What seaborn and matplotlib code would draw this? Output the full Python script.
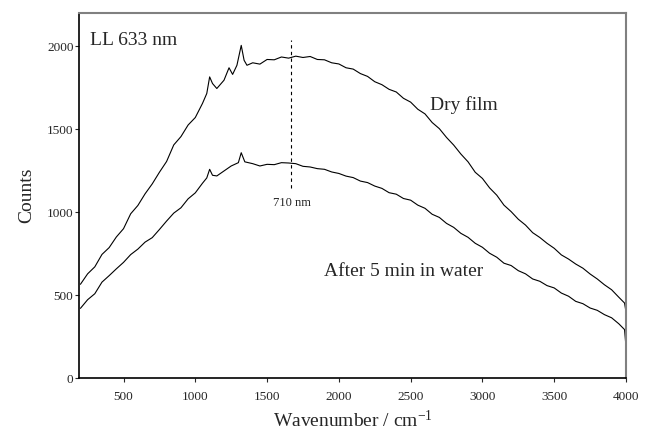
import matplotlib
matplotlib.use("Agg")
import matplotlib.pyplot as plt
import seaborn as sns
import pandas as pd

# ---- data ----
dry_x = [200, 250, 300, 350, 400, 450, 500, 550, 600, 650, 700, 750, 800, 850, 900, 950,
         1000, 1050, 1080, 1100, 1120, 1150, 1180, 1200, 1235, 1260, 1290, 1320, 1340, 1360,
         1400, 1450, 1500, 1550, 1600, 1650, 1700, 1750, 1800, 1850, 1900, 1950, 2000, 2050,
         2100, 2150, 2200, 2250, 2300, 2350, 2400, 2450, 2500, 2550, 2600, 2650, 2700, 2750,
         2800, 2850, 2900, 2950, 3000, 3050, 3100, 3150, 3200, 3250, 3300, 3350, 3400, 3450,
         3500, 3550, 3600, 3650, 3700, 3750, 3800, 3850, 3900, 3950, 3990, 4000]
dry_y = [565, 628, 670, 745, 786, 850, 900, 990, 1040, 1110, 1170, 1240, 1305, 1405, 1455, 1525,
         1570, 1655, 1715, 1815, 1775, 1745, 1775, 1795, 1870, 1830, 1885, 2005, 1915, 1885,
         1900, 1892, 1920, 1918, 1935, 1928, 1940, 1932, 1938, 1920, 1918, 1900, 1893, 1870,
         1862, 1835, 1818, 1786, 1768, 1740, 1724, 1686, 1663, 1620, 1592, 1540, 1503, 1450,
         1404, 1350, 1303, 1240, 1203, 1146, 1102, 1042, 1003, 957, 922, 876, 847, 812,
         782, 742, 717, 687, 662, 627, 597, 562, 532, 487, 452, 400]

wet_x = [200, 250, 300, 350, 400, 450, 500, 550, 600, 650, 700, 750, 800, 850, 900, 950,
         1000, 1050, 1080, 1100, 1120, 1150, 1200, 1250, 1300, 1320, 1345, 1400, 1450, 1500,
         1550, 1600, 1650, 1700, 1750, 1800, 1850, 1900, 1950, 2000, 2050, 2100, 2150, 2200,
         2250, 2300, 2350, 2400, 2450, 2500, 2550, 2600, 2650, 2700, 2750, 2800, 2850, 2900,
         2950, 3000, 3050, 3100, 3150, 3200, 3250, 3300, 3350, 3400, 3450, 3500, 3550, 3600,
         3650, 3700, 3750, 3800, 3850, 3900, 3950, 3990, 4000]
wet_y = [420, 472, 508, 578, 617, 658, 697, 744, 777, 819, 846, 895, 946, 994, 1026, 1080,
         1116, 1174, 1206, 1258, 1222, 1218, 1248, 1278, 1298, 1358, 1303, 1292, 1278, 1288,
         1286, 1298, 1296, 1292, 1276, 1272, 1262, 1258, 1242, 1233, 1217, 1208, 1187, 1178,
         1157, 1143, 1117, 1108, 1082, 1072, 1042, 1023, 987, 968, 932, 908, 872, 848,
         812, 788, 752, 728, 692, 678, 647, 628, 597, 583, 557, 543, 512, 493,
         462, 448, 422, 408, 382, 363, 327, 292, 190]

series_names = ["Dry film", "After 5 min in water"]
x_ticks = [500, 1000, 1500, 2000, 2500, 3000, 3500, 4000]
y_ticks = [0, 500, 1000, 1500, 2000]
marker_x = 1670

df = pd.concat([
    pd.DataFrame({"w": dry_x, "c": dry_y, "s": series_names[0]}),
    pd.DataFrame({"w": wet_x, "c": wet_y, "s": series_names[1]}),
], ignore_index=True)

sns.set_style("ticks")
plt.rcParams["font.family"] = ["Liberation Serif", "DejaVu Serif"]
plt.rcParams["mathtext.default"] = "regular"

fig = plt.figure(figsize=(6.46, 4.34), dpi=100)
ax = fig.add_axes([0.1223, 0.129, 0.969 - 0.1223, 0.970 - 0.129])

sns.lineplot(data=df, x="w", y="c", hue="s", units="s", estimator=None,
             palette={series_names[0]: "black", series_names[1]: "black"},
             linewidth=0.8, legend=False, ax=ax, sort=False)

ax.set_xlim(190, 4000)
ax.set_ylim(0, 2200)
ax.set_xticks(x_ticks)
ax.set_yticks(y_ticks)
ax.tick_params(axis="both", direction="out", length=3, width=0.8, labelsize=9.5)
ax.tick_params(axis="x", pad=6)
ax.tick_params(axis="y", pad=1)

for side in ["left", "bottom"]:
    ax.spines[side].set_color("black")
    ax.spines[side].set_linewidth(1.2)
for side in ["top", "right"]:
    ax.spines[side].set_visible(True)
    ax.spines[side].set_color("#808080")
    ax.spines[side].set_linewidth(1.5)

ax.set_xlabel("Wavenumber / cm$^{-1}$", fontsize=14)
ax.set_ylabel("Counts", fontsize=14)
ax.xaxis.set_label_coords(0.5, -0.086)
ax.yaxis.set_label_coords(-0.080, 0.5)

ax.vlines(marker_x, 1145, 2040, colors="black", linestyles=(0, (3, 3)), linewidth=0.8)
ax.text(marker_x, 1052, "710 nm", ha="center", va="center", fontsize=9)
ax.text(270, 2034, "LL 633 nm", ha="left", va="center", fontsize=14)
ax.text(2637, 1643, "Dry film", ha="left", va="center", fontsize=14)
ax.text(1897, 643, "After 5 min in water", ha="left", va="center", fontsize=14)

fig.savefig("out.png", dpi=100)
